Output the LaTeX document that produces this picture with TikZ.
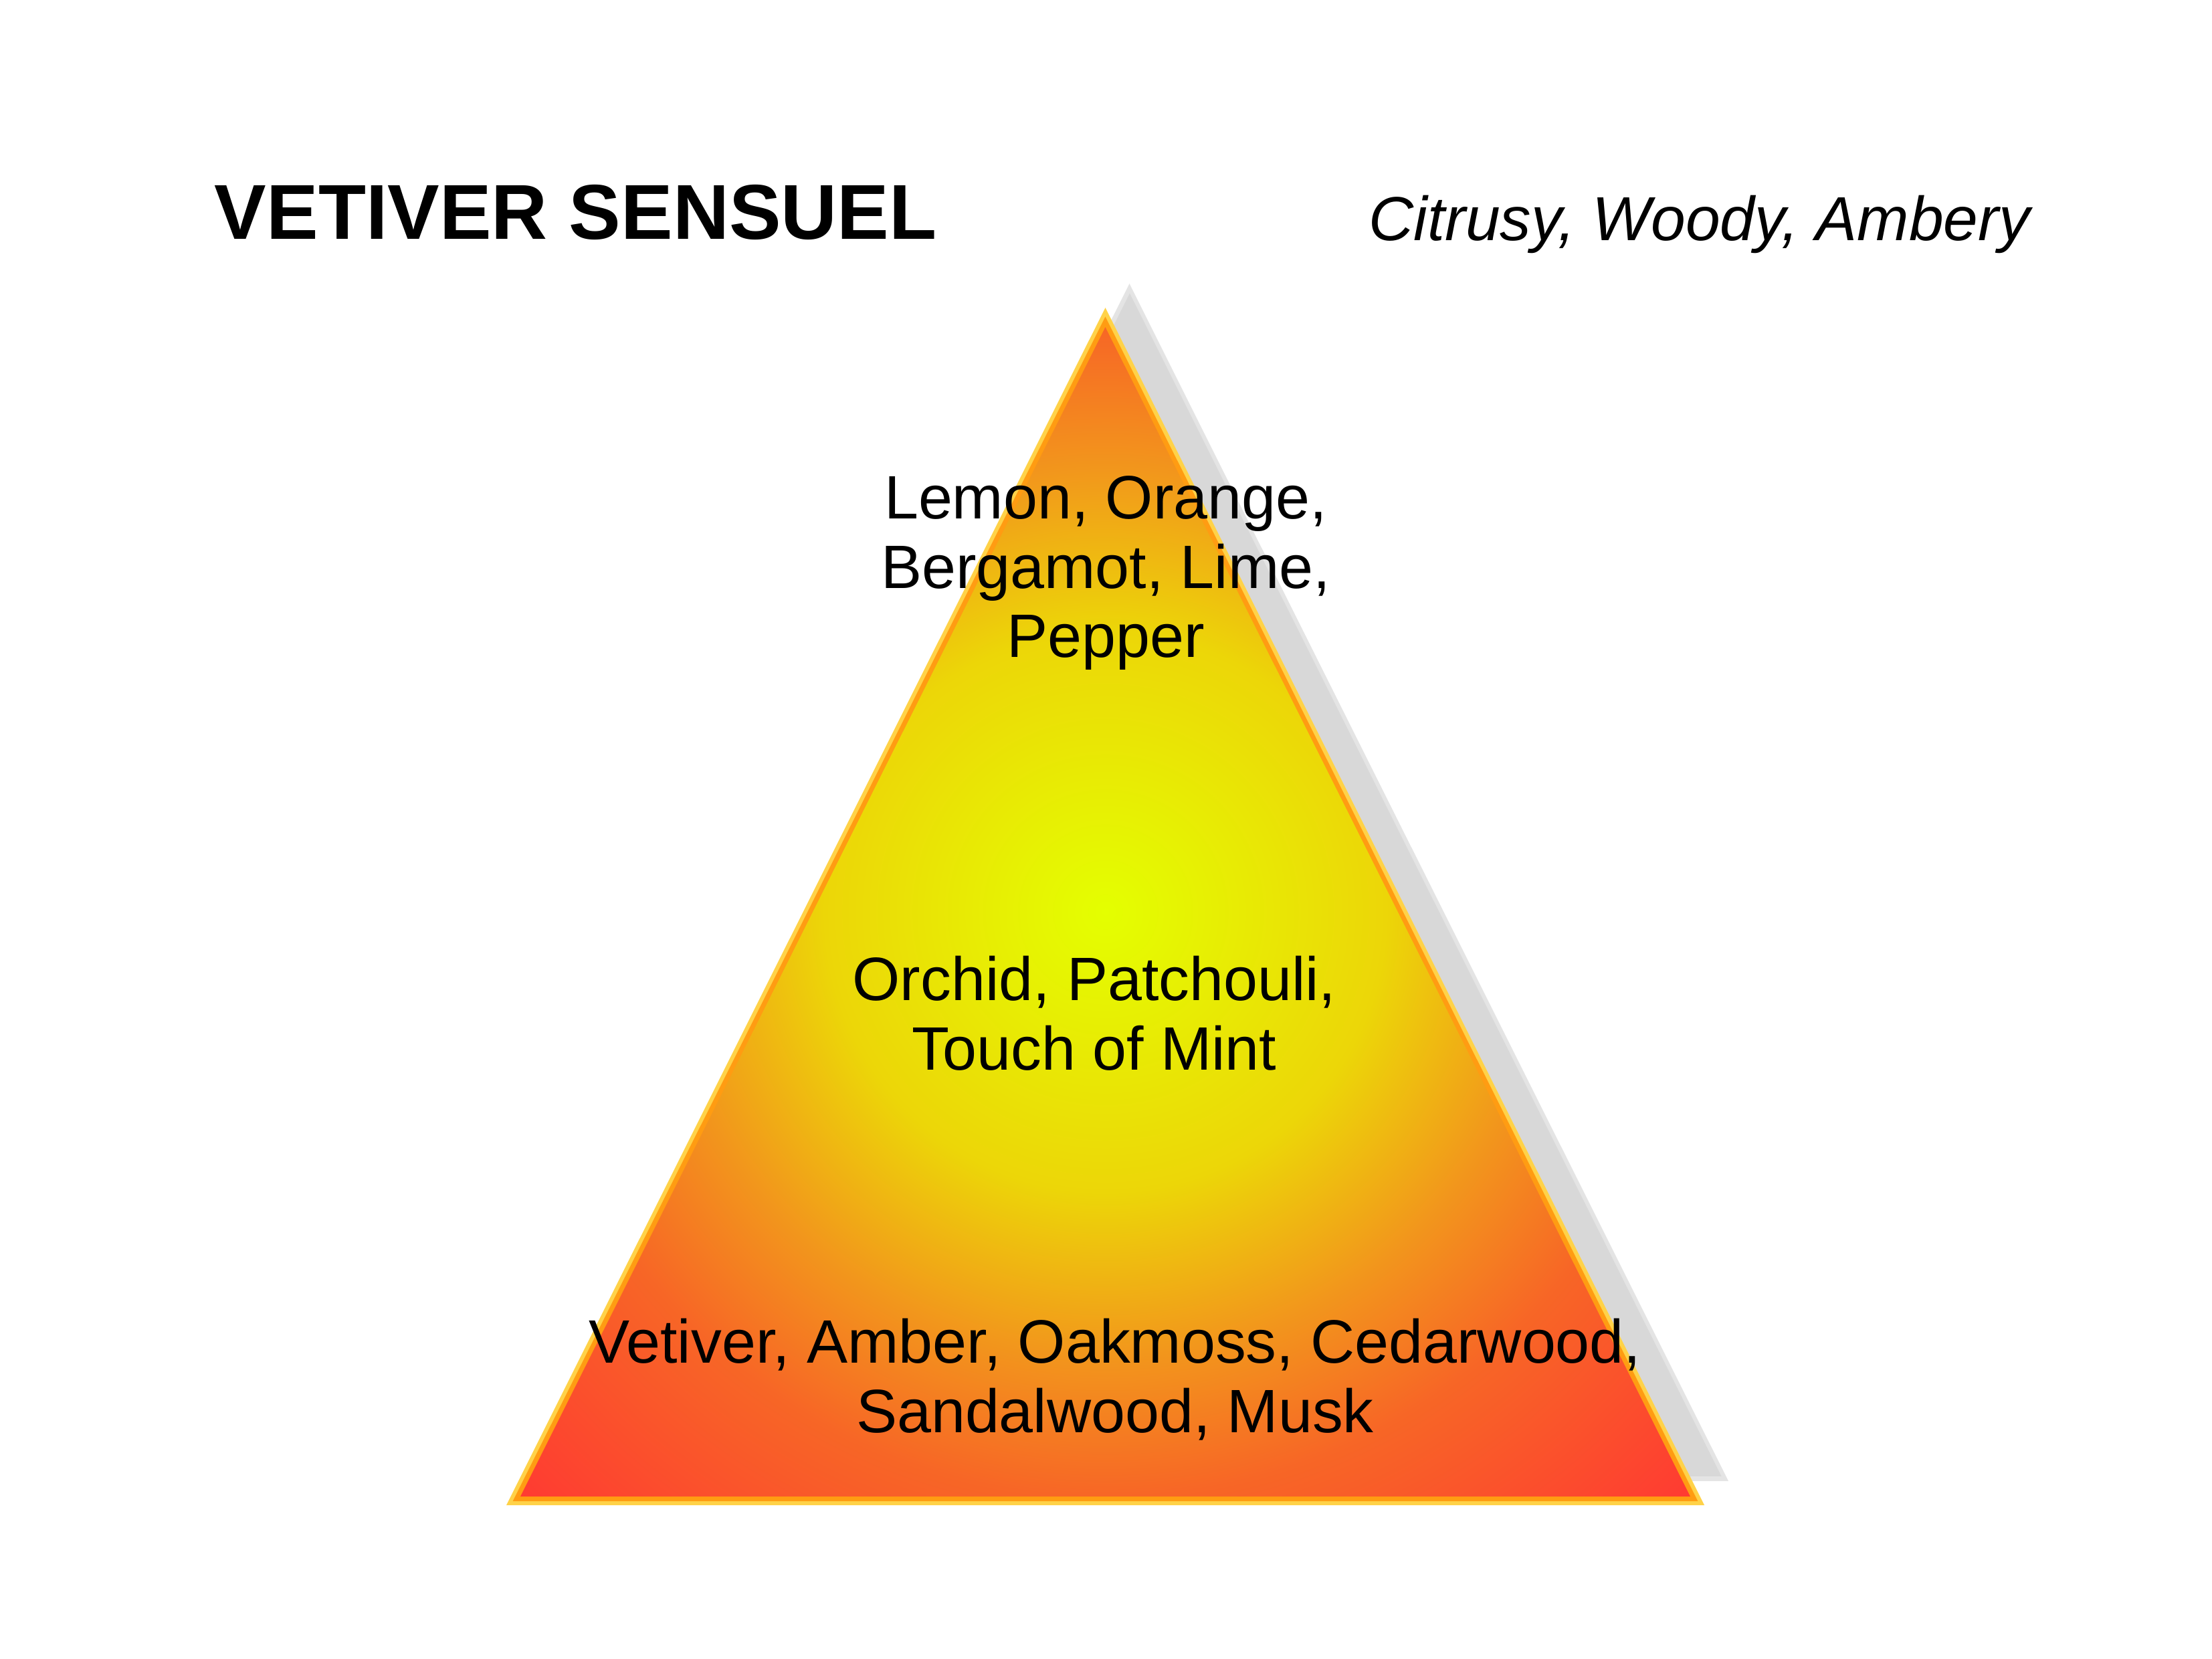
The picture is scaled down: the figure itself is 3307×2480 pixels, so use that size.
\documentclass[tikz,border=0pt]{standalone}
\usepackage{fontspec}
\setmainfont{Liberation Sans}
\usetikzlibrary{calc}

\definecolor{rimyellow}{RGB}{255,210,72}
\definecolor{rimorange}{RGB}{255,156,18}
\definecolor{shadowedge}{RGB}{228,228,228}
\definecolor{shadowgrey}{RGB}{216,216,216}
\definecolor{glowcentre}{RGB}{228,255,0}
\definecolor{glowyellow}{RGB}{236,214,8}
\definecolor{gloworange}{RGB}{242,150,28}
\definecolor{glowtangerine}{RGB}{247,102,38}
\definecolor{glowred}{RGB}{255,58,50}

\pgfdeclareradialshading{pyramidglow}{\pgfpoint{0bp}{0bp}}{%
  color(0bp)=(glowcentre); color(12bp)=(glowyellow); color(19bp)=(gloworange);
  color(25bp)=(glowtangerine); color(35.5bp)=(glowred); color(50bp)=(glowred)}

\begin{document}
\begin{tikzpicture}[x=0.0076807cm, y=-0.0076807cm,
    notes/.style={align=center, inner sep=0pt, font=\fontsize{20}{22.6}\selectfont}]

    \useasboundingbox (0,0) rectangle (3307,2480);

    \coordinate (apex) at (1652.5,460);
    \coordinate (lcorner) at (757,2250);
    \coordinate (rcorner) at (2548,2250);
    \coordinate (inc) at (1652.5,1696.7);
    \coordinate (sinc) at ($(inc)+(36,-36)$);

    % shadow
    \foreach \f/\col in {1/shadowedge, 0.988/shadowgrey}
        \fill[\col] ($(sinc)!\f!(apex)+(36,-36)$) -- ($(sinc)!\f!(lcorner)+(36,-36)$)
            -- ($(sinc)!\f!(rcorner)+(36,-36)$) -- cycle;

    % pyramid with its rim
    \foreach \f/\col in {1/rimyellow, 0.98916/rimorange}
        \fill[\col] ($(inc)!\f!(apex)$) -- ($(inc)!\f!(lcorner)$) -- ($(inc)!\f!(rcorner)$) -- cycle;
    \shade[shading=pyramidglow] ($(inc)!0.9765!(apex)$) -- ($(inc)!0.9765!(lcorner)$)
        -- ($(inc)!0.9765!(rcorner)$) -- cycle;

    \node (title) at (320,358) [anchor=base west, inner sep=0pt,
        font=\fontsize{25.4}{30}\selectfont\bfseries] {VETIVER SENSUEL};
    \node (scent) at (3036,360) [anchor=base east, inner sep=0pt,
        font=\fontsize{20.3}{24}\selectfont\itshape] {Citrusy, Woody, Ambery};

    \node (top) at (1653,857) [notes] {Lemon, Orange,\\ Bergamot, Lime,\\ Pepper};
    \node (heart) at (1636,1515) [notes] {Orchid, Patchouli,\\ Touch of Mint};
    \node (base) at (1667,2062) [notes] {Vetiver, Amber, Oakmoss, Cedarwood,\\ Sandalwood, Musk};
\end{tikzpicture}
\end{document}
